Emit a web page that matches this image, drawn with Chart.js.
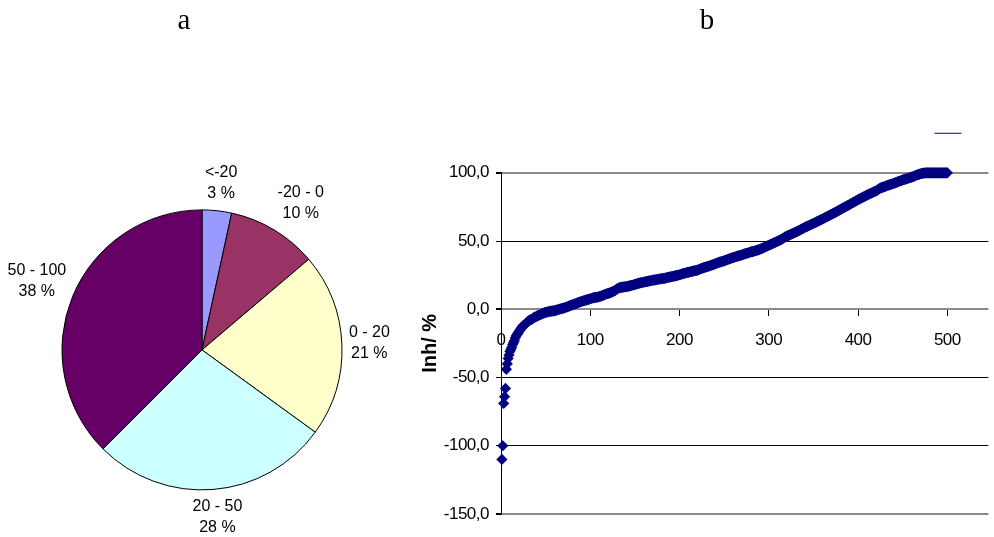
<!DOCTYPE html>
<html><head><meta charset="utf-8">
<script src="https://cdn.jsdelivr.net/npm/chart.js@4/dist/chart.umd.min.js"></script>
<style>
html,body{margin:0;padding:0;background:#fff;width:994px;height:537px;overflow:hidden;position:relative}
canvas{position:absolute;top:0}
#pie{left:-30px}
#sc{left:420px}
</style></head><body>
<canvas id="pie" width="428" height="537"></canvas>
<canvas id="sc" width="574" height="537"></canvas>
<script>
// ---- data ----
const pieLabels = ['<-20', '-20 - 0', '0 - 20', '20 - 50', '50 - 100'];
const pieShares = [3.4, 10.4, 21.2, 27.5, 37.5];
const xTicks = [0, 100, 200, 300, 400, 500];
const yTicks = [-150, -100, -50, 0, 50, 100];
const inhValues = [
-110, -100, -69, -64, -58, -44, -40, -36, -33.5, -31,
-29.5, -28, -26, -24.5, -23, -21, -19.5, -18.5, -17.5, -16.5,
-15.5, -14.5, -13.5, -12.5, -12, -11.5, -11, -10.5, -9.5, -9,
-8.5, -8, -7.8, -7.5, -7, -6.5, -6, -5.8, -5.5, -5,
-4.8, -4.5, -4.2, -4, -3.5, -3.2, -3, -2.8, -2.5, -2.3,
-2.1, -2, -1.8, -1.6, -1.5, -1.4, -1.3, -1.2, -1.1, -1,
-0.8, -0.6, -0.4, -0.2, 0, 0.2, 0.4, 0.5, 0.7, 0.9,
1.1, 1.3, 1.5, 1.8, 2, 2.3, 2.5, 2.8, 3, 3.3,
3.5, 3.8, 4, 4.2, 4.5, 4.8, 5, 5.2, 5.5, 5.7,
5.9, 6.1, 6.3, 6.5, 6.7, 6.9, 7.1, 7.3, 7.5, 7.7,
7.9, 8.1, 8.3, 8.5, 8.6, 8.7, 8.8, 8.9, 9, 9.2,
9.4, 9.6, 9.9, 10.2, 10.4, 10.7, 11, 11.2, 11.4, 11.6,
11.8, 12, 12.3, 12.6, 12.9, 13.2, 13.5, 13.9, 14.4, 14.9,
15.3, 15.6, 15.8, 16, 16.1, 16.2, 16.3, 16.4, 16.5, 16.6,
16.7, 16.8, 17, 17.1, 17.3, 17.5, 17.6, 17.8, 18, 18.2,
18.4, 18.6, 18.8, 19, 19.2, 19.3, 19.5, 19.6, 19.8, 19.9,
20, 20.2, 20.3, 20.5, 20.6, 20.8, 20.9, 21, 21.1, 21.3,
21.4, 21.5, 21.6, 21.7, 21.9, 22, 22.1, 22.2, 22.3, 22.4,
22.5, 22.6, 22.7, 22.9, 23, 23.2, 23.3, 23.5, 23.6, 23.8,
23.9, 24, 24.2, 24.3, 24.5, 24.6, 24.8, 24.9, 25.1, 25.3,
25.5, 25.7, 25.9, 26.1, 26.3, 26.4, 26.6, 26.8, 27, 27.1,
27.3, 27.5, 27.6, 27.8, 27.9, 28.1, 28.2, 28.4, 28.5, 28.7,
28.9, 29.2, 29.5, 29.8, 30, 30.2, 30.5, 30.7, 30.9, 31.1,
31.3, 31.5, 31.7, 31.9, 32.2, 32.4, 32.6, 32.8, 33.1, 33.3,
33.6, 33.8, 34.1, 34.3, 34.5, 34.7, 34.9, 35.1, 35.3, 35.5,
35.8, 36, 36.2, 36.5, 36.8, 37, 37.3, 37.5, 37.7, 37.9,
38.1, 38.3, 38.5, 38.7, 38.9, 39.1, 39.3, 39.5, 39.7, 39.9,
40.1, 40.4, 40.6, 40.8, 41, 41.2, 41.4, 41.6, 41.8, 42,
42.2, 42.3, 42.5, 42.7, 42.9, 43.1, 43.3, 43.5, 43.7, 44,
44.2, 44.5, 44.8, 45.1, 45.4, 45.7, 46, 46.3, 46.6, 46.9,
47.2, 47.5, 47.8, 48.1, 48.4, 48.7, 49, 49.3, 49.6, 49.9,
50.2, 50.5, 50.8, 51.2, 51.6, 52, 52.4, 52.8, 53.2, 53.5,
53.8, 54.1, 54.4, 54.7, 55, 55.3, 55.6, 55.9, 56.2, 56.5,
56.8, 57.1, 57.5, 57.8, 58.1, 58.5, 58.8, 59.2, 59.5, 59.9,
60.2, 60.5, 60.8, 61.1, 61.4, 61.7, 62, 62.3, 62.6, 62.9,
63.2, 63.5, 63.9, 64.2, 64.5, 64.8, 65.1, 65.5, 65.8, 66.1,
66.5, 66.8, 67.1, 67.5, 67.8, 68.1, 68.5, 68.8, 69.2, 69.5,
69.8, 70.2, 70.5, 70.9, 71.2, 71.6, 71.9, 72.3, 72.6, 73,
73.4, 73.7, 74.1, 74.4, 74.8, 75.2, 75.5, 75.9, 76.2, 76.6,
77, 77.3, 77.7, 78.1, 78.4, 78.8, 79.2, 79.5, 79.9, 80.3,
80.6, 81, 81.3, 81.6, 81.9, 82.3, 82.6, 83, 83.3, 83.6,
84, 84.3, 84.6, 84.9, 85.2, 85.5, 85.8, 86.1, 86.4, 86.7,
87, 87.5, 88, 88.4, 88.8, 89.1, 89.3, 89.5, 89.7, 89.9,
90.2, 90.5, 90.8, 91, 91.2, 91.4, 91.6, 91.8, 92, 92.2,
92.5, 92.8, 93, 93.3, 93.6, 93.8, 94, 94.2, 94.5, 94.8,
95, 95.2, 95.4, 95.6, 95.8, 96, 96.2, 96.4, 96.6, 96.8,
97, 97.3, 97.6, 97.9, 98.2, 98.4, 98.6, 98.9, 99.1, 99.3,
99.5, 99.6, 99.7, 99.8, 99.9, 100, 100, 100, 100, 100,
100, 100, 100, 100, 100, 100, 100, 100, 100, 100,
100, 100, 100, 100, 100, 100, 100, 100, 100, 100
];

// ---- styles ----
const pieColors = ['#9999FF', '#993366', '#FFFFCC', '#CCFFFF', '#660066'];
const SANS = "'Liberation Sans', Arial, sans-serif";
const SERIF = "'Liberation Serif', 'Times New Roman', serif";
const MARK = '#000080';
const grayLines = [100, 0, -150];

// tighter letter spacing for axis tick labels (condensed look of the original)
const _origDrawLabels = Chart.LinearScale.prototype.drawLabels;
Chart.LinearScale.prototype.drawLabels = function (area) {
  const ctx = this.ctx;
  const prev = ctx.letterSpacing;
  if (prev !== undefined) ctx.letterSpacing = '-0.5px';
  _origDrawLabels.call(this, area);
  if (prev !== undefined) ctx.letterSpacing = prev || '0px';
};

const pieLabelPlugin = {
  id: 'pieLabels',
  afterDatasetsDraw(chart) {
    const ctx = chart.ctx;
    const meta = chart.getDatasetMeta(0);
    const lh = 21, gap = 7;
    const clamp = v => Math.max(-1, Math.min(1, v));
    ctx.save();
    ctx.font = '16px ' + SANS;
    ctx.fillStyle = '#000';
    ctx.textAlign = 'center';
    ctx.textBaseline = 'middle';
    meta.data.forEach((arc, i) => {
      const p = arc.getProps(['x', 'y', 'startAngle', 'endAngle', 'outerRadius'], true);
      const mid = (p.startAngle + p.endAngle) / 2;
      const c = Math.cos(mid), s = Math.sin(mid);
      const lines = [pieLabels[i], Math.round(pieShares[i]) + ' %'];
      const w = Math.max(...lines.map(t => ctx.measureText(t).width));
      const ax = p.x + (p.outerRadius + gap) * c;
      const ay = p.y + (p.outerRadius + gap) * s;
      const cx = ax + (w / 2) * clamp(2 * c);
      const cy = ay + lh * clamp(1.5 * s);
      ctx.fillText(lines[0], cx, cy - lh / 2);
      ctx.fillText(lines[1], cx, cy + lh / 2);
    });
    ctx.restore();
  }
};

new Chart(document.getElementById('pie'), {
  type: 'pie',
  data: {
    labels: pieLabels,
    datasets: [{
      data: pieShares,
      backgroundColor: pieColors,
      borderColor: '#000',
      borderWidth: 1,
      radius: 140
    }]
  },
  options: {
    responsive: false,
    animation: false,
    events: [],
    layout: { padding: 0 },
    plugins: {
      title: {
        display: true, text: 'a', color: '#000',
        font: { family: SERIF, size: 29, weight: 'normal', lineHeight: 1.2 },
        padding: { top: 4, bottom: 124 }
      },
      legend: {
        display: true, position: 'left',
        labels: { padding: 26, generateLabels: () => [] }
      },
      tooltip: { enabled: false }
    }
  },
  plugins: [pieLabelPlugin]
});

new Chart(document.getElementById('sc'), {
  type: 'scatter',
  data: {
    datasets: [{
      label: 'Inh',
      data: inhValues.map((v, i) => ({ x: i + 1, y: v })),
      pointStyle: 'rectRot',
      pointRadius: 5.6,
      pointHoverRadius: 5.6,
      backgroundColor: MARK,
      borderColor: MARK,
      borderWidth: 0,
      clip: false
    }]
  },
  options: {
    responsive: false,
    animation: false,
    events: [],
    layout: { padding: { left: 0, right: 0, top: 0, bottom: 23 } },
    plugins: {
      title: {
        display: true, text: 'b', color: '#000',
        font: { family: SERIF, size: 29, weight: 'normal', lineHeight: 1.2 },
        padding: { top: 4, bottom: 62 }
      },
      legend: {
        display: true, position: 'top', align: 'end',
        labels: {
          font: { size: 59 }, padding: 3, boxWidth: 27, boxHeight: 1,
          generateLabels: () => [{ text: '', fillStyle: MARK, strokeStyle: MARK, lineWidth: 0, hidden: false, datasetIndex: 0 }]
        }
      },
      tooltip: { enabled: false }
    },
    scales: {
      x: {
        type: 'linear',
        position: { y: 0 },
        min: 0, max: 546,
        afterBuildTicks: s => { s.ticks = xTicks.map(v => ({ value: v })); },
        grid: { drawOnChartArea: false, drawTicks: true, tickLength: 7, tickColor: '#000', lineWidth: 1 },
        border: { display: false },
        ticks: { color: '#000', font: { family: SANS, size: 17 }, padding: 14, maxRotation: 0, autoSkip: false }
      },
      y: {
        type: 'linear',
        min: -150, max: 100,
        afterBuildTicks: s => { s.ticks = yTicks.map(v => ({ value: v })); },
        afterFit: s => { s.width = 81; },
        grid: {
          color: c => grayLines.includes(c.tick && c.tick.value) ? '#8a8a8a' : '#000',
          lineWidth: c => grayLines.includes(c.tick && c.tick.value) ? 2 : 1,
          tickLength: 5, tickColor: '#000'
        },
        border: { display: true, color: '#000', width: 1 },
        ticks: {
          color: '#000', font: { family: SANS, size: 17 }, padding: 7,
          callback: v => Number(v).toFixed(1).replace('.', ',')
        },
        title: {
          display: true, text: 'Inh/ %', color: '#000',
          font: { family: SANS, size: 20, weight: 'bold', lineHeight: 1 },
          padding: { top: 0, bottom: 0 }
        }
      }
    }
  }
});
</script>
</body></html>
